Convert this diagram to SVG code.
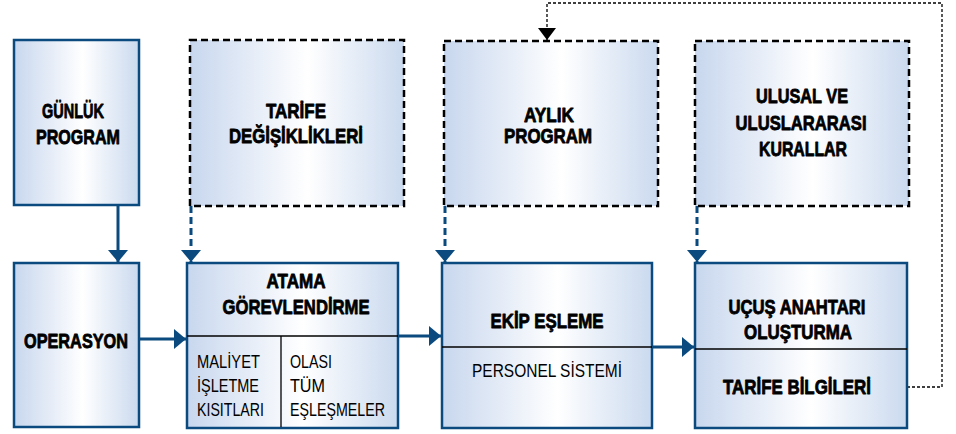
<svg xmlns="http://www.w3.org/2000/svg" width="956" height="434" viewBox="0 0 956 434">
  <defs>
    <linearGradient id="boxFill" x1="0" y1="0" x2="1" y2="0">
      <stop offset="0" stop-color="#c8d7ee"/>
      <stop offset="0.55" stop-color="#ffffff"/>
      <stop offset="1" stop-color="#cbdaef"/>
    </linearGradient>
    <marker id="blueHead" markerWidth="20" markerHeight="20" viewBox="0 0 20 20" refX="12" refY="10" orient="auto" markerUnits="userSpaceOnUse">
      <path d="M0,0 L12,10 L0,20 Z" fill="#0b4a7e"/>
    </marker>
    <marker id="blackHead" markerWidth="18" markerHeight="18" viewBox="0 0 18 18" refX="12" refY="9" orient="auto" markerUnits="userSpaceOnUse">
      <path d="M0,0 L12,9 L0,18 Z" fill="#000"/>
    </marker>
  </defs>
  <style>
    .solid { fill: url(#boxFill); stroke: #0b4a7e; stroke-width: 2.5; }
    .dashed { fill: url(#boxFill); stroke: #000; stroke-width: 2.5; stroke-dasharray: 7 4; }
    .rule { stroke: #000; stroke-width: 1.3; fill: none; }
    .bold { font-family: "Liberation Sans", Arial, sans-serif; font-weight: bold; font-size: 20.5px; fill: #000; stroke: #000; stroke-width: 0.8; stroke-linejoin: round; text-anchor: middle; }
    .reg { font-family: "Liberation Sans", Arial, sans-serif; font-size: 19px; fill: #000; }
    .link { stroke: #0b4a7e; stroke-width: 3; fill: none; marker-end: url(#blueHead); }
    .dlink { stroke: #0b4a7e; stroke-width: 3; fill: none; stroke-dasharray: 7 4; marker-end: url(#blueHead); }
    .loop { stroke: #000; stroke-width: 1.3; fill: none; stroke-dasharray: 3 2; marker-end: url(#blackHead); }
  </style>

  <rect width="956" height="434" fill="#fff"/>

  <!-- connectors -->
  <g id="connectors">
    <path class="link" d="M118,206 V262"/>
    <path class="dlink" d="M191,206 V262"/>
    <path class="dlink" d="M445,206 V262"/>
    <path class="dlink" d="M697,206 V262"/>
    <path class="link" d="M139,339 H186"/>
    <path class="link" d="M398,336 H441"/>
    <path class="link" d="M652,347 H694"/>
    <path class="loop" d="M907,387 H942 V3 H547 V40"/>
  </g>

  <!-- upper row -->
  <g id="gunluk-program">
    <rect class="solid" x="14" y="40" width="125" height="165"/>
    <text class="bold" x="73" y="118" textLength="62" lengthAdjust="spacingAndGlyphs">GÜNLÜK</text>
    <text class="bold" x="78" y="144" textLength="84" lengthAdjust="spacingAndGlyphs">PROGRAM</text>
  </g>

  <g id="tarife-degisiklikleri">
    <rect class="dashed" x="190" y="40" width="214" height="166"/>
    <text class="bold" x="296" y="118" textLength="60" lengthAdjust="spacingAndGlyphs">TARİFE</text>
    <text class="bold" x="296" y="143" textLength="134" lengthAdjust="spacingAndGlyphs">DEĞİŞİKLİKLERİ</text>
  </g>

  <g id="aylik-program">
    <rect class="dashed" x="444" y="41" width="214" height="165"/>
    <text class="bold" x="549" y="122" textLength="50" lengthAdjust="spacingAndGlyphs">AYLIK</text>
    <text class="bold" x="548" y="143" textLength="88" lengthAdjust="spacingAndGlyphs">PROGRAM</text>
  </g>

  <g id="ulusal-kurallar">
    <rect class="dashed" x="695" y="41" width="214" height="165"/>
    <text class="bold" x="802" y="103" textLength="92" lengthAdjust="spacingAndGlyphs">ULUSAL VE</text>
    <text class="bold" x="801" y="130" textLength="131" lengthAdjust="spacingAndGlyphs">ULUSLARARASI</text>
    <text class="bold" x="803" y="156" textLength="88" lengthAdjust="spacingAndGlyphs">KURALLAR</text>
  </g>

  <!-- lower row -->
  <g id="operasyon">
    <rect class="solid" x="14" y="263" width="125" height="164"/>
    <text class="bold" x="76" y="348" textLength="104" lengthAdjust="spacingAndGlyphs">OPERASYON</text>
  </g>

  <g id="atama-gorevlendirme">
    <rect class="solid" x="187" y="263" width="211" height="165"/>
    <line class="rule" x1="187" y1="336" x2="398" y2="336"/>
    <line class="rule" x1="281" y1="336" x2="281" y2="427"/>
    <text class="bold" x="296" y="288" textLength="59" lengthAdjust="spacingAndGlyphs">ATAMA</text>
    <text class="bold" x="296" y="314" textLength="147" lengthAdjust="spacingAndGlyphs">GÖREVLENDİRME</text>
    <text class="reg" x="197" y="368" textLength="63" lengthAdjust="spacingAndGlyphs">MALİYET</text>
    <text class="reg" x="197" y="392" textLength="62" lengthAdjust="spacingAndGlyphs">İŞLETME</text>
    <text class="reg" x="197" y="416" textLength="67" lengthAdjust="spacingAndGlyphs">KISITLARI</text>
    <text class="reg" x="290" y="368" textLength="42" lengthAdjust="spacingAndGlyphs">OLASI</text>
    <text class="reg" x="290" y="392" textLength="35" lengthAdjust="spacingAndGlyphs">TÜM</text>
    <text class="reg" x="290" y="416" textLength="95" lengthAdjust="spacingAndGlyphs">EŞLEŞMELER</text>
  </g>

  <g id="ekip-esleme">
    <rect class="solid" x="442" y="263" width="210" height="165"/>
    <line class="rule" x1="442" y1="347" x2="652" y2="347"/>
    <text class="bold" x="547" y="328" textLength="113" lengthAdjust="spacingAndGlyphs">EKİP EŞLEME</text>
    <text class="reg" x="547" y="377" text-anchor="middle" textLength="150" lengthAdjust="spacingAndGlyphs">PERSONEL SİSTEMİ</text>
  </g>

  <g id="ucus-anahtari">
    <rect class="solid" x="695" y="263" width="212" height="165"/>
    <line class="rule" x1="695" y1="349" x2="907" y2="349"/>
    <text class="bold" x="797" y="314" textLength="137" lengthAdjust="spacingAndGlyphs">UÇUŞ ANAHTARI</text>
    <text class="bold" x="798" y="339" textLength="108" lengthAdjust="spacingAndGlyphs">OLUŞTURMA</text>
    <text class="bold" x="797" y="394" textLength="148" lengthAdjust="spacingAndGlyphs">TARİFE BİLGİLERİ</text>
  </g>
</svg>
